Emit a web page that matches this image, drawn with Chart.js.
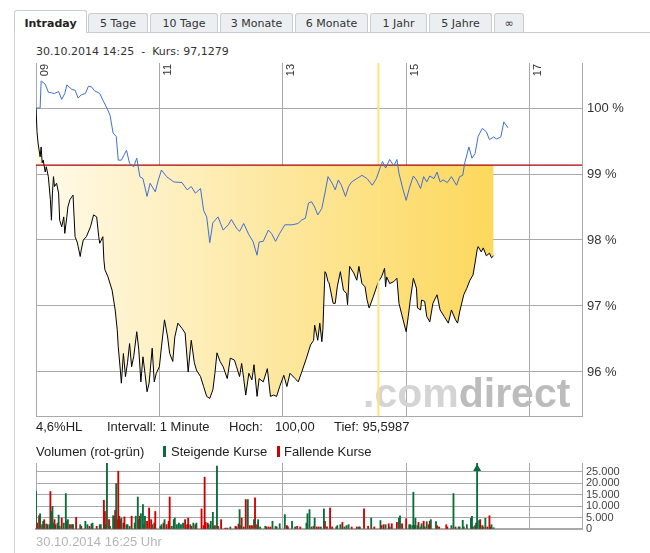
<!DOCTYPE html>
<html><head><meta charset="utf-8">
<script src="https://cdn.jsdelivr.net/npm/chart.js@4"></script>
<style>
body{margin:0;background:#fff;width:650px;height:553px;overflow:hidden;position:relative;}
.t{position:absolute;white-space:pre;}
.tab{position:absolute;top:13px;height:19px;box-sizing:border-box;border:1px solid #c7cdd2;border-bottom:none;background:#eceff2;font:11px 'DejaVu Sans',Verdana,sans-serif;color:#333;text-align:center;line-height:19px;border-radius:3px 3px 0 0;}
.tab.act{top:10px;height:23px;background:#fff;font-weight:bold;color:#222;line-height:25px;z-index:2}
.ar{font:13px 'Liberation Sans',Arial,sans-serif;color:#222;line-height:16px;}
canvas{position:absolute;left:0;}
</style></head>
<body>
<div style="position:absolute;left:15px;top:32px;right:0;height:1px;background:#c7cdd2"></div>
<div style="position:absolute;left:14px;top:32px;width:1px;height:521px;background:#d3d3d3"></div>
<div class="tab act" style="left:14px;width:73px">Intraday</div>
<div class="tab" style="left:88px;width:60px">5 Tage</div>
<div class="tab" style="left:150px;width:68px">10 Tage</div>
<div class="tab" style="left:220px;width:73px">3 Monate</div>
<div class="tab" style="left:295px;width:73px">6 Monate</div>
<div class="tab" style="left:370px;width:57px">1 Jahr</div>
<div class="tab" style="left:429px;width:63px">5 Jahre</div>
<div class="tab" style="left:494px;width:30px">∞</div>
<div class="t" style="left:36px;top:45px;font:11px 'DejaVu Sans',Verdana,sans-serif;color:#333">30.10.2014 14:25  -  Kurs: 97,1279</div>

<canvas id="main" width="650" height="365" style="top:55px"></canvas>

<div class="t ar" style="left:36px;top:419px">4,6%HL</div>
<div class="t ar" style="left:107px;top:419px">Intervall: 1 Minute</div>
<div class="t ar" style="left:229px;top:419px">Hoch:</div>
<div class="t ar" style="left:275px;top:419px">100,00</div>
<div class="t ar" style="left:334px;top:419px">Tief: 95,5987</div>

<div class="t ar" style="left:36px;top:444px">Volumen (rot-grün)</div>
<div style="position:absolute;left:163px;top:446px;width:3px;height:11px;background:#0a6b3b"></div>
<div class="t ar" style="left:171px;top:444px">Steigende Kurse</div>
<div style="position:absolute;left:277px;top:446px;width:3px;height:11px;background:#d10000"></div>
<div class="t ar" style="left:284px;top:444px">Fallende Kurse</div>

<canvas id="vol" width="650" height="80" style="top:455px"></canvas>
<div class="t ar" style="left:36px;top:534px;color:#b5b5b5">30.10.2014 16:25 Uhr</div>

<script>
// ---- data (minutes after 09:00) ----
const tickMinutes = [0, 120, 240, 360, 480];
const tickLabels = ['09', '11', '13', '15', '17'];
const pctTicks = [96, 97, 98, 99, 100];
const volTicks = [0, 5000, 10000, 15000, 20000, 25000];
const refLevel = 99.136;
const markerMinute = 333;

const blueMin = [0,4,5,9,12,15,18,22,25,28,30,35,38,41,44,48,51,54,57,62,65,69,72,75,78,80,83,88,91,95,98,101,104,108,111,116,119,122,127,134,142,147,151,155,160,163,166,169,172,177,182,187,190,195,198,202,207,211,215,217,221,226,229,233,237,242,249,255,258,262,265,268,271,274,278,281,284,288,291,294,297,301,304,307,312,317,322,327,331,335,337,340,344,348,351,353,357,360,363,367,370,374,377,380,383,387,390,393,396,400,404,409,412,415,417,421,424,427,430,434,438,441,445,448,452,455,459];
const blueVal = [100.00,100.00,100.41,100.36,100.24,100.23,100.22,100.25,100.13,100.22,100.35,100.28,100.27,100.15,100.20,100.22,100.33,100.32,100.26,100.22,100.12,100.00,99.89,99.62,99.57,99.21,99.21,99.36,99.16,99.11,99.24,98.96,98.93,98.66,98.86,98.73,98.91,99.06,98.96,98.88,98.87,98.76,98.81,98.71,98.78,98.45,98.35,97.96,98.26,98.35,98.15,98.23,98.31,98.18,98.13,98.25,98.08,97.98,97.77,97.97,97.98,98.15,98.10,97.98,98.10,98.23,98.23,98.25,98.30,98.33,98.56,98.58,98.50,98.38,98.48,98.71,98.96,98.86,98.76,98.91,98.83,98.66,98.81,98.88,98.93,98.98,98.93,98.83,98.93,99.11,99.19,99.09,99.22,99.12,99.22,99.01,98.76,98.60,98.78,98.97,98.91,98.78,98.96,98.88,98.97,98.93,99.03,98.88,98.91,98.87,98.96,98.83,98.96,98.98,99.17,99.41,99.24,99.31,99.57,99.69,99.64,99.52,99.56,99.53,99.56,99.79,99.70];

const blackMin = [0,1,2,4,5,6,7,9,10,12,14,15,16,17,18,20,22,23,25,27,28,30,31,33,35,36,38,40,41,43,44,46,49,53,56,59,61,62,65,66,67,70,74,77,79,80,82,83,85,87,89,91,93,95,98,100,102,104,106,108,110,113,115,117,120,122,125,128,130,133,135,138,142,145,148,150,151,154,156,160,163,166,169,172,174,176,179,182,186,189,193,195,198,200,202,204,207,210,212,215,217,221,225,228,231,234,237,241,244,247,252,255,258,263,267,270,271,274,276,278,279,280,281,282,284,285,289,291,293,296,299,302,303,305,309,312,314,317,320,322,324,328,333,336,339,340,341,344,348,351,353,357,360,362,364,367,370,371,374,375,378,380,383,386,390,393,397,401,404,408,410,412,416,419,422,425,427,429,430,433,435,438,441,443,445];
const blackVal = [100.00,99.64,99.47,99.26,99.41,99.17,99.21,99.03,99.11,98.96,98.61,98.30,98.71,98.96,98.81,98.86,98.71,98.30,98.20,98.35,98.10,98.35,98.50,98.61,98.66,98.68,98.05,97.97,97.90,97.75,97.85,98.00,98.05,98.20,98.38,98.35,98.05,97.95,98.05,97.70,97.55,97.44,97.24,96.94,96.64,96.38,96.03,95.83,96.28,95.93,96.14,96.43,96.08,96.23,96.61,96.33,95.85,96.23,95.98,95.70,95.83,96.36,95.85,95.98,96.08,96.38,96.79,96.53,96.28,96.16,96.53,96.74,96.66,96.59,96.00,96.33,96.48,96.14,96.03,95.93,95.78,95.63,95.60,95.73,95.98,96.29,96.16,96.08,95.90,96.21,96.18,96.08,95.93,96.13,95.90,95.65,95.98,95.88,96.11,95.63,95.90,95.85,96.05,95.63,95.65,95.63,95.78,95.95,95.78,95.98,95.90,95.85,95.98,96.21,96.41,96.48,96.71,96.48,96.74,96.46,96.64,97.09,97.52,97.50,97.37,97.35,97.04,97.04,97.29,97.52,97.24,97.19,97.02,97.60,97.50,97.39,97.60,97.34,97.29,97.09,96.97,97.14,97.37,97.44,97.57,97.29,97.44,97.34,97.37,97.42,97.04,96.79,96.61,96.84,97.09,97.42,97.27,96.97,96.94,97.09,97.07,96.84,96.76,97.04,97.17,96.94,96.84,96.74,96.94,96.79,96.74,96.91,97.17,97.27,97.39,97.47,97.65,97.85,97.90,97.82,97.88,97.76,97.80,97.73,97.76];

const upMin = [0,4,7,10,13,15,16,17,21,22,23,27,29,31,35,36,43,48,50,54,55,62,63,68,69,72,75,78,83,88,89,91,96,97,99,102,104,106,113,121,122,125,132,134,135,137,139,141,143,150,153,156,168,170,172,173,176,189,198,199,206,212,216,218,223,230,233,237,242,249,252,263,264,266,270,271,277,280,292,293,296,300,302,304,314,315,326,335,340,344,353,354,363,364,366,367,369,371,374,375,378,380,384,389,404,406,411,412,415,419,423,424,425,428,429,431,435,437,443,445];
const upVol = [16500,6700,3400,2200,1900,7700,9900,2600,2600,6100,1200,2600,15500,4100,1900,1900,1900,3400,1900,2200,2600,1900,1900,1900,28800,1200,5800,19900,4800,1900,1900,1200,2600,5600,14000,6700,10700,5600,1900,1200,1900,4100,1200,4100,4800,1900,2600,1900,2600,1900,2600,2600,1900,3400,7300,900,27500,900,8500,1500,12900,4100,4100,900,1200,3400,1200,2300,6300,3400,900,2600,6700,8500,1200,4800,900,8800,900,1500,1900,900,1500,1900,900,900,4800,3700,1900,900,4800,5800,1900,1900,1500,16100,4700,1500,900,2300,900,3200,4100,3200,1500,15500,900,900,3800,1900,4700,5600,900,2600,35000,3700,900,4700,1900,600];
const downMin = [1,3,6,8,11,14,18,19,25,30,33,39,44,52,59,66,67,71,76,77,79,80,81,82,85,86,93,100,101,105,108,110,112,115,116,124,127,129,130,145,147,148,151,155,161,163,164,165,167,174,177,180,184,186,194,195,197,200,202,204,208,210,213,215,224,226,228,234,244,245,254,257,268,273,275,281,283,286,288,298,307,312,319,323,329,336,338,343,346,351,356,360,368,372,377,382,383,390,392,399,400,408,416,427,432,434,439,441,442];
const downVol = [2600,5800,1900,4100,1900,16400,4100,1900,4800,3400,1900,5100,1200,1200,1200,12600,7700,4100,5600,8200,4100,25300,5600,4100,2600,5300,5600,4100,5600,1900,3400,9200,4100,2600,7700,2600,1900,3400,14000,4100,1900,4800,1200,1900,8800,1500,22700,2900,2600,1500,1200,4100,400,400,1200,900,2200,4800,900,12900,1500,1500,13600,1900,900,900,900,900,1500,900,1200,900,900,900,900,3400,900,9200,900,2900,900,900,8800,1200,900,1500,1900,2300,2300,2900,2300,4500,1500,2900,3400,1900,3400,1500,900,1900,900,900,900,1500,4100,1500,900,5800,900];

// ---- charts ----
const GRID = '#a9a9a9';
const FONT = "'Liberation Sans', Arial, sans-serif";
const X_MIN = 0, X_MAX = 531;
const pts = (xs, ys) => xs.map((m, i) => ({x: m, y: ys[i]}));
const fixTicks = arr => s => { s.ticks = arr.map(v => ({value: v})); };
const fitRight = s => { s.width = 68; s.paddingTop = 0; s.paddingBottom = 0; };

const watermark = {
  id: 'watermark',
  beforeDatasetsDraw(chart) {
    const {ctx, chartArea: a} = chart;
    ctx.save();
    ctx.font = "bold 41px 'Liberation Sans', Arial, sans-serif";
    ctx.textBaseline = 'alphabetic';
    let x = a.right - 219, y = a.bottom - 9;
    ctx.fillStyle = '#d4d4d4';
    ctx.fillText('.com', x, y);
    x += ctx.measureText('.com').width;
    ctx.fillStyle = '#bcbcbc';
    ctx.fillText('direct', x, y);
    ctx.restore();
  }
};

const xLabels = {
  id: 'xLabels',
  afterDatasetsDraw(chart) {
    const {ctx, chartArea: a, scales: {x}} = chart;
    ctx.save();
    ctx.font = '11px ' + FONT;
    ctx.fillStyle = '#333';
    ctx.textAlign = 'right';
    ctx.textBaseline = 'top';
    tickMinutes.forEach((m, i) => {
      ctx.save();
      ctx.translate(x.getPixelForValue(m) + 3, a.top + 1);
      ctx.rotate(-Math.PI / 2);
      ctx.fillText(tickLabels[i], 0, 0);
      ctx.restore();
    });
    ctx.restore();
  }
};

const fillGradient = c => {
  const chart = c.chart;
  if (!chart.chartArea) return 'rgba(253,220,110,0.6)';
  const xs = chart.scales.x;
  const g = chart.ctx.createLinearGradient(xs.getPixelForValue(0), 0, xs.getPixelForValue(445), 0);
  g.addColorStop(0, '#fffaea');
  g.addColorStop(0.45, '#fdeaaa');
  g.addColorStop(1, '#fdd85c');
  return g;
};

new Chart(document.getElementById('main'), {
  type: 'line',
  data: {datasets: [
    {label: 'Kurs', data: pts(blueMin, blueVal), borderColor: '#3f6fd5', borderWidth: 1, pointRadius: 0, order: 1},
    {label: 'Referenz', data: [{x: X_MIN, y: refLevel}, {x: X_MAX, y: refLevel}], borderColor: '#a80000', borderWidth: 1.2, pointRadius: 0, order: 2},
    {label: 'Marker', data: [{x: markerMinute, y: 95.333}, {x: markerMinute, y: 100.682}], borderColor: '#ffe37d', borderWidth: 2, pointRadius: 0, order: 3},
    {label: 'HL', data: pts(blackMin, blackVal), borderColor: '#000', borderWidth: 1, pointRadius: 0, fill: {value: refLevel}, backgroundColor: fillGradient, order: 4}
  ]},
  options: {
    responsive: false, animation: false, events: [],
    layout: {padding: {left: 36, top: 8, bottom: 4, right: 0}},
    plugins: {legend: {display: false}, tooltip: {enabled: false}},
    scales: {
      x: {type: 'linear', min: X_MIN, max: X_MAX, afterBuildTicks: fixTicks(tickMinutes), afterFit: s => { s.height = 0; },
          grid: {color: GRID, drawTicks: false}, border: {color: GRID}, ticks: {display: false}},
      y: {position: 'right', min: 95.333, max: 100.682, afterBuildTicks: fixTicks(pctTicks), afterFit: fitRight,
          grid: {color: GRID, drawTicks: false}, border: {color: GRID},
          ticks: {padding: 5, autoSkip: false, color: '#333', font: {family: FONT, size: 13}, callback: v => v + ' %'}}
    }
  },
  plugins: [watermark, xLabels]
});

const overflowArrow = {
  id: 'overflowArrow',
  afterDatasetsDraw(chart) {
    const {ctx, chartArea: a, scales: {x, y}} = chart;
    chart.data.datasets.forEach(ds => {
      ds.data.forEach(p => {
        if (p.y > y.max) {
          const px = x.getPixelForValue(p.x);
          ctx.save();
          ctx.fillStyle = ds.backgroundColor;
          ctx.beginPath();
          ctx.moveTo(px, a.top + 1);
          ctx.lineTo(px - 4, a.top + 8);
          ctx.lineTo(px + 4, a.top + 8);
          ctx.closePath();
          ctx.fill();
          ctx.restore();
        }
      });
    });
  }
};

new Chart(document.getElementById('vol'), {
  type: 'bar',
  data: {datasets: [
    {label: 'Steigende Kurse', data: pts(upMin, upVol), backgroundColor: '#0a6b3b', barThickness: 1.2, grouped: false},
    {label: 'Fallende Kurse', data: pts(downMin, downVol), backgroundColor: '#d10000', barThickness: 1.2, grouped: false}
  ]},
  options: {
    responsive: false, animation: false, events: [],
    layout: {padding: {left: 36, top: 8, bottom: 6, right: 0}},
    plugins: {legend: {display: false}, tooltip: {enabled: false}},
    scales: {
      x: {type: 'linear', min: X_MIN, max: X_MAX, offset: false, afterBuildTicks: fixTicks(tickMinutes), afterFit: s => { s.height = 0; },
          grid: {color: GRID, drawTicks: false, offset: false}, border: {color: GRID, width: 2}, ticks: {display: false}},
      y: {position: 'right', min: 0, max: 28900, afterBuildTicks: fixTicks(volTicks), afterFit: fitRight,
          grid: {color: GRID, drawTicks: false}, border: {color: GRID},
          ticks: {padding: 4, autoSkip: false, color: '#444', font: {family: "'Liberation Sans Narrow', 'Liberation Sans', Arial, sans-serif", size: 11},
                  callback: v => String(v).replace(/\B(?=(\d{3})+(?!\d))/g, '.')}}
    }
  },
  plugins: [overflowArrow]
});
</script>
</body></html>
